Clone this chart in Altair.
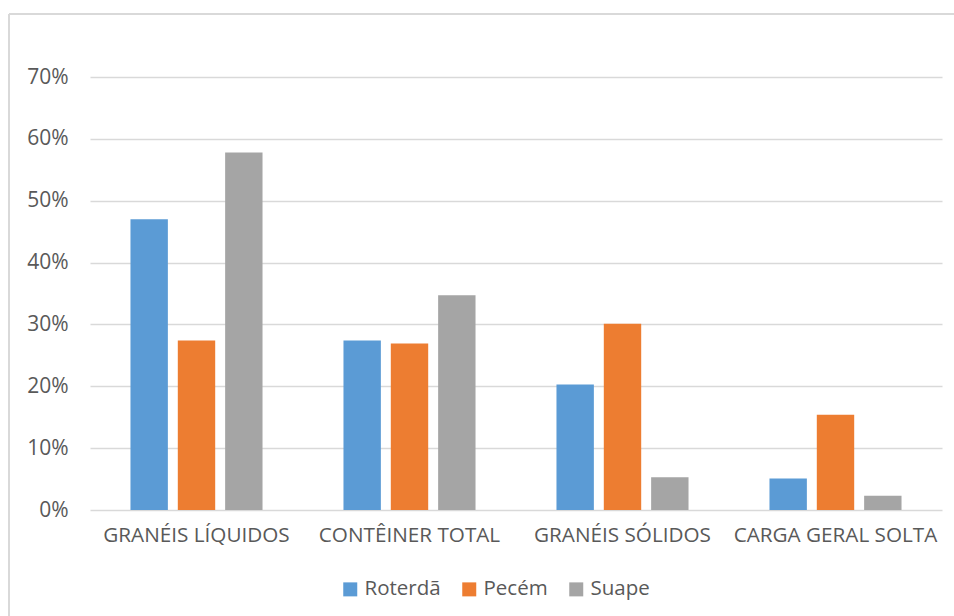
import altair as alt
import pandas as pd

categories = ["GRANÉIS LÍQUIDOS", "CONTÊINER TOTAL", "GRANÉIS SÓLIDOS", "CARGA GERAL SOLTA"]
ports = ["Roterdã", "Pecém", "Suape"]
roterda = [0.470, 0.274, 0.203, 0.051]
pecem = [0.274, 0.269, 0.301, 0.154]
suape = [0.578, 0.347, 0.053, 0.023]
colors = ["#5B9BD5", "#ED7D31", "#A5A5A5"]

rows = []
for port, series in zip(ports, [roterda, pecem, suape]):
    for cat, val in zip(categories, series):
        rows.append({"categoria": cat, "porto": port, "valor": val})
df = pd.DataFrame(rows)

FONT = "Open Sans"
TEXT = "#595959"
GRID = "#D9D9D9"

bars = alt.Chart(df).mark_bar().encode(
    x=alt.X(
        "categoria:N",
        sort=categories,
        title=None,
        scale=alt.Scale(paddingInner=0.38, paddingOuter=0.19),
        axis=alt.Axis(labelAngle=0, ticks=False, domain=False, labelPadding=15,
                      labelLimit=0, labelFontSize=20.7, labelColor=TEXT, labelFont=FONT),
    ),
    xOffset=alt.XOffset("porto:N", sort=ports, scale=alt.Scale(paddingInner=0.21, paddingOuter=0)),
    y=alt.Y(
        "valor:Q",
        title=None,
        scale=alt.Scale(domain=[0, 0.7], nice=False),
        axis=alt.Axis(values=[0, 0.1, 0.2, 0.3, 0.4, 0.5, 0.6, 0.7], format=".0%",
                      ticks=False, domain=False, labelPadding=22, gridColor=GRID,
                      gridWidth=1.5, labelFontSize=21, labelColor=TEXT, labelFont=FONT),
    ),
    color=alt.Color(
        "porto:N",
        sort=ports,
        scale=alt.Scale(domain=ports, range=colors),
        legend=alt.Legend(title=None, orient="none", direction="horizontal",
                          legendX=250, legendY=502, symbolType="square", symbolSize=196,
                          symbolStrokeWidth=0, labelOffset=4, columnPadding=18,
                          labelFontSize=20.5, labelColor=TEXT, labelFont=FONT),
    ),
)

# light grey frame lines along the top and left of the figure
frame_top = alt.Chart(pd.DataFrame({"f": [0]})).mark_rule(
    stroke=GRID, strokeWidth=2
).encode(x=alt.value(-81), x2=alt.value(864), y=alt.value(-63))

frame_left = alt.Chart(pd.DataFrame({"f": [0]})).mark_rule(
    stroke=GRID, strokeWidth=2
).encode(x=alt.value(-81), y=alt.value(-63), y2=alt.value(539))

chart = alt.layer(frame_top, frame_left, bars).properties(
    width=852,
    height=433,
    padding={"left": 90, "top": 77, "right": 12, "bottom": 106},
    autosize=alt.AutoSizeParams(type="none"),
    background="white",
).configure_view(stroke=None)

chart.save("out.html", embed_options={"renderer": "svg", "actions": False})
